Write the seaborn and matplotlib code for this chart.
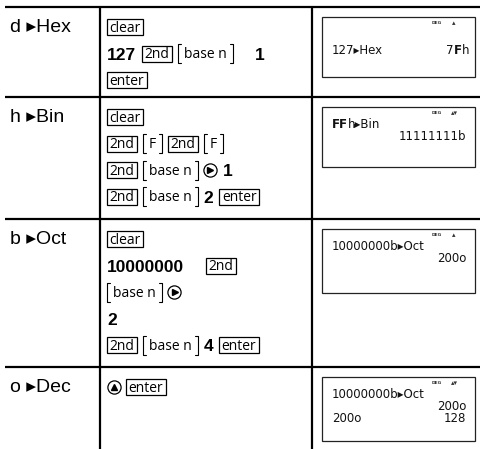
import matplotlib
matplotlib.use('Agg')
import matplotlib.pyplot as plt
import seaborn as sns
from matplotlib.patches import Rectangle

sns.set_theme(style='white')
plt.rcParams['font.family'] = ['Liberation Sans', 'DejaVu Sans']

# Datos de la tabla
conversiones = ['d ▸Hex', 'h ▸Bin', 'b ▸Oct', 'o ▸Dec']

# tipos: key = tecla con recuadro, sec = [funcion], num = numero en negrita,
# der / arr = flechas del cursor, sp = espacio ancho
teclas = [
    [[('key', 'clear')],
     [('num', '127'), ('key', '2nd'), ('sec', 'base n'), ('sp', ''), ('num', '1')],
     [('key', 'enter')]],
    [[('key', 'clear')],
     [('key', '2nd'), ('sec', 'F'), ('key', '2nd'), ('sec', 'F')],
     [('key', '2nd'), ('sec', 'base n'), ('der', ''), ('num', '1')],
     [('key', '2nd'), ('sec', 'base n'), ('num', '2'), ('key', 'enter')]],
    [[('key', 'clear')],
     [('num', '10000000'), ('sp', ''), ('key', '2nd')],
     [('sec', 'base n'), ('der', '')],
     [('num', '2')],
     [('key', '2nd'), ('sec', 'base n'), ('num', '4'), ('key', 'enter')]],
    [[('arr', ''), ('key', 'enter')]],
]

pantalla_expr = ['127▸Hex', 'FFh▸Bin', '10000000b▸Oct', '10000000b▸Oct']
pantalla_res = ['7Fh', '11111111b', '200o', '200o']
pantalla_extra_izq = ['', '', '', '200o']
pantalla_extra_der = ['', '', '', '128']
indicadores = ['▴', '▴▾', '▴', '▴▾']

fig = plt.figure(figsize=(4.8, 4.49), dpi=100)
ax = fig.add_axes([0, 0, 1, 1])
ax.set_xlim(0, 480)
ax.set_ylim(449, 0)
ax.axis('off')
renderer = fig.canvas.get_renderer()


def ancho(t):
    return t.get_window_extent(renderer).width


def linea_teclas(tokens, x, y):
    for tipo, txt in tokens:
        if tipo == 'sp':
            x += 16
            continue
        if tipo == 'key':
            t = ax.text(x + 2.5, y + 4.8, txt, fontsize=10, family='Open Sans',
                        va='baseline', ha='left', color='black')
            w = ancho(t)
            ax.add_patch(Rectangle((x, y - 8), w + 5, 16, fill=False, lw=0.9, ec='black'))
            x += w + 5
        elif tipo == 'sec':
            t = ax.text(x + 6, y + 4.8, txt, fontsize=10, family='Open Sans',
                        va='baseline', ha='left', color='black')
            w = ancho(t)
            xd = x + w + 12
            ax.plot([x + 3, x, x, x + 3], [y - 9.5, y - 9.5, y + 9.5, y + 9.5], color='black', lw=0.8)
            ax.plot([xd - 3, xd, xd, xd - 3], [y - 9.5, y - 9.5, y + 9.5, y + 9.5], color='black', lw=0.8)
            x = xd
        elif tipo == 'num':
            t = ax.text(x, y + 6.3, txt, fontsize=12.5, fontweight='bold',
                        va='baseline', ha='left', color='black')
            x += ancho(t)
        else:
            ax.plot([x + 6.5], [y], marker='o', ms=9.5, mfc='white', mec='black', mew=0.9)
            m = '>' if tipo == 'der' else '^'
            ax.plot([x + 6.8 if m == '>' else x + 6.5], [y if m == '>' else y - 0.5],
                    marker=m, ms=3.8, color='black')
            x += 13
        x += 6


def texto_lcd(s, x, y, alinear='left', fs=8.5):
    # los digitos hexadecimales (antes de la flecha) se ven en negrita
    trozos = []
    flecha = False
    for c in s:
        if c == '▸':
            flecha = True
        negrita = c in 'ABCDEF' and not flecha
        if trozos and trozos[-1][1] == negrita:
            trozos[-1][0] += c
        else:
            trozos.append([c, negrita])
    textos = []
    total = 0
    for txt, negrita in trozos:
        t = ax.text(0, y, txt, fontsize=fs, family='DejaVu Sans',
                    fontweight='bold' if negrita else 'normal', va='center', ha='left', color='#111111')
        w = ancho(t)
        textos.append((t, w))
        total += w
    xi = x if alinear == 'left' else x - total
    for t, w in textos:
        t.set_x(xi)
        xi += w


# lineas de la tabla
tops = [7, 97, 219, 367]
x_col1, x_col2 = 100, 312
for yt in tops:
    ax.plot([5, 480], [yt, yt], color='black', lw=1.6, solid_capstyle='butt')
ax.plot([x_col1, x_col1], [tops[0], 449], color='black', lw=1.6)
ax.plot([x_col2, x_col2], [tops[0], 449], color='black', lw=1.6)

for i, conv in enumerate(conversiones):
    top = tops[i]
    y1 = top + 20
    ax.text(10, y1, conv, fontsize=14, va='center', ha='left', color='black')

    for j, tokens in enumerate(teclas[i]):
        linea_teclas(tokens, 107, y1 + j * 26.5)

    # pantalla de la calculadora
    bt = top + 10
    alto = 64 if i >= 2 else 60
    ax.add_patch(Rectangle((322, bt), 153, alto, fill=False, lw=0.9, ec='#222222'))
    ax.text(437, bt + 6, 'DEG', fontsize=3.2, fontweight='bold', va='center', ha='center',
            family='DejaVu Sans', color='#333333')
    ax.text(454, bt + 6, indicadores[i], fontsize=5, va='center', ha='center',
            family='DejaVu Sans', color='#333333')
    expr, res = pantalla_expr[i], pantalla_res[i]
    if len(expr) + len(res) <= 14:
        texto_lcd(expr, 332, bt + 33)
        texto_lcd(res, 469, bt + 33, 'right')
    else:
        texto_lcd(expr, 332, bt + 18)
        texto_lcd(res, 466, bt + 29, 'right')
    if pantalla_extra_izq[i]:
        texto_lcd(pantalla_extra_izq[i], 332, bt + 42)
        texto_lcd(pantalla_extra_der[i], 466, bt + 42, 'right')

fig.savefig('out.png', dpi=100)
